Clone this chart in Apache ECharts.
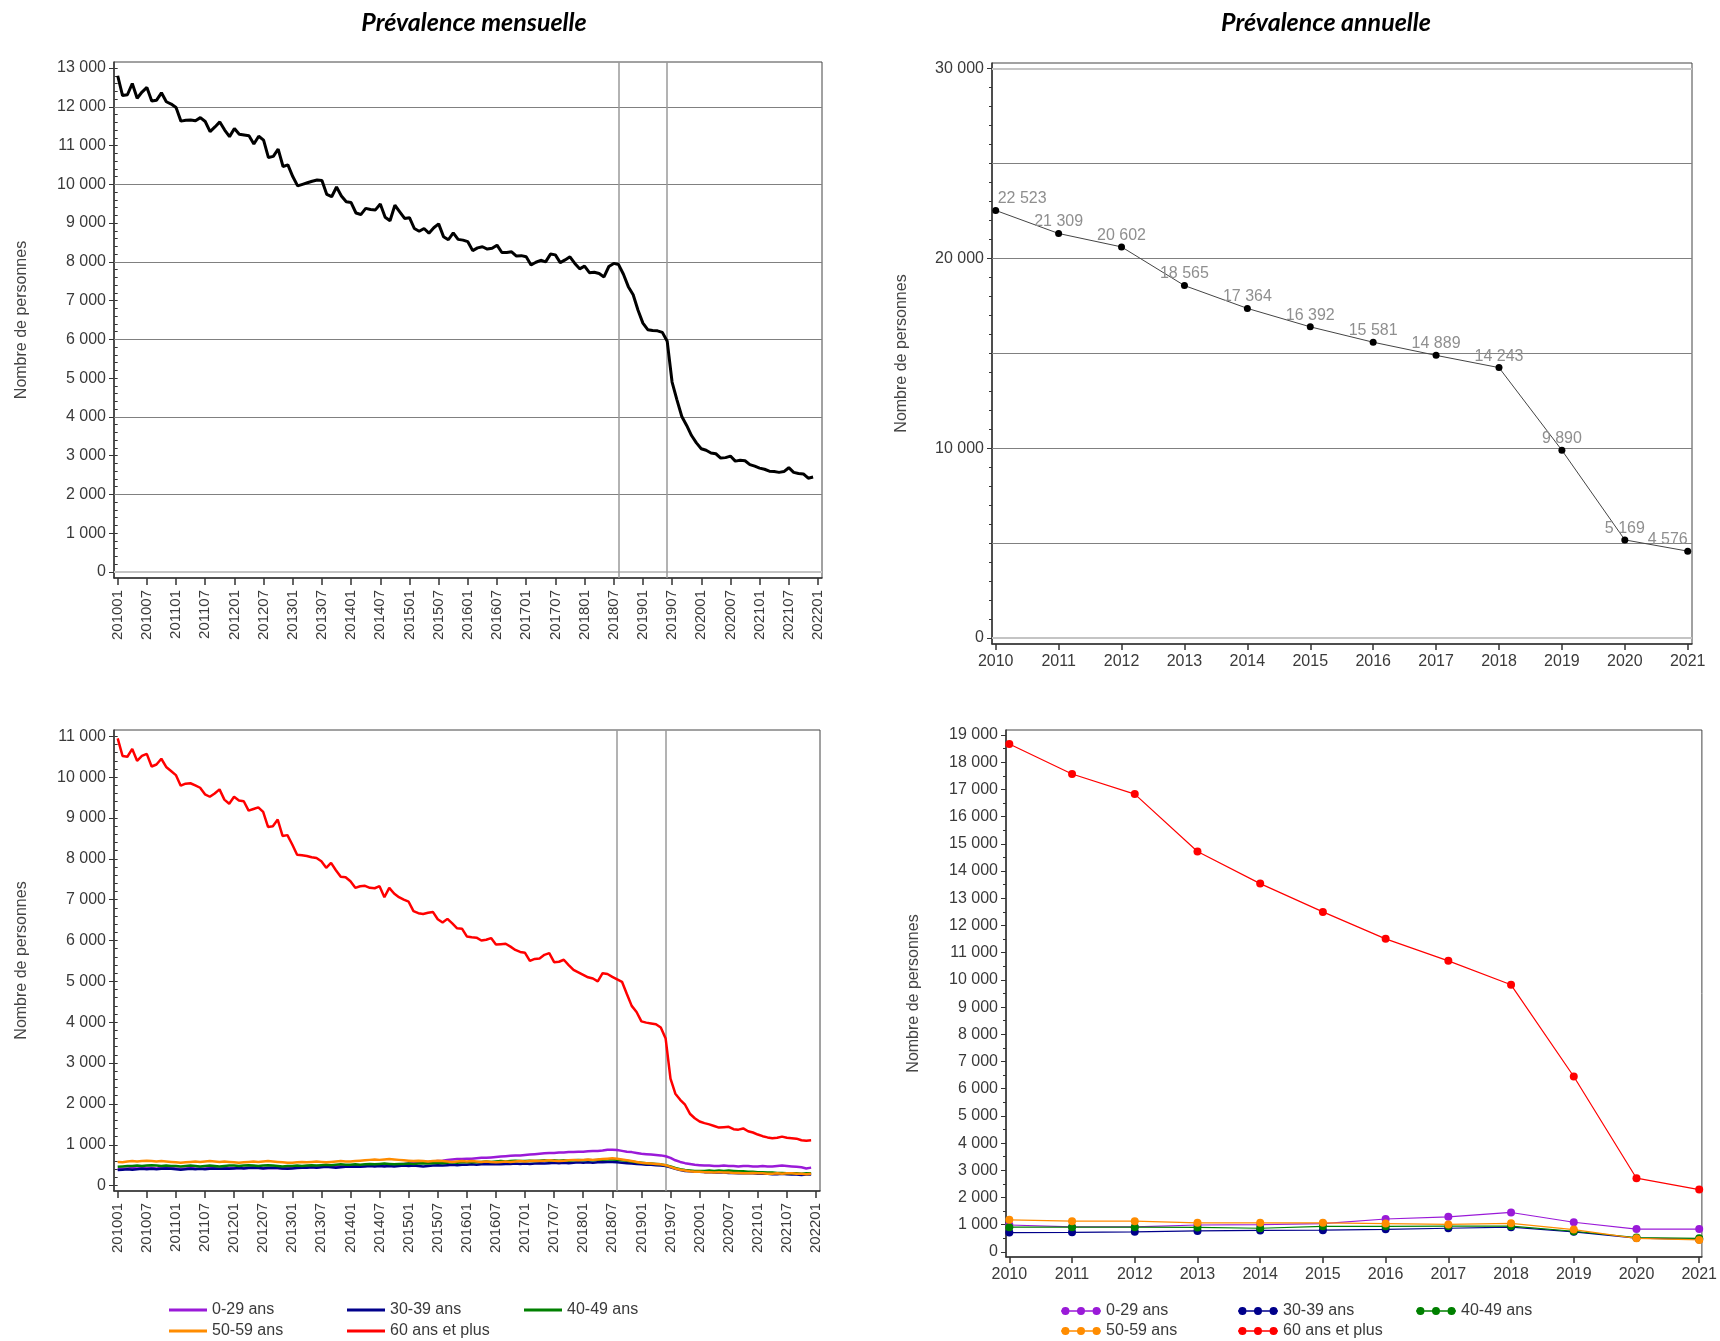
<!DOCTYPE html>
<html>
<head>
<meta charset="utf-8">
<script src="https://cdn.jsdelivr.net/npm/echarts@6/dist/echarts.min.js"></script>
<style>
  html, body { margin: 0; padding: 0; background: #fff; }
  #chart { width: 1720px; height: 1341px; }
</style>
</head>
<body>
<div id="chart"></div>
<script>
// ---- données ----
// mois : index 0 = 201001 ... 143 = 202112
const moisTicks = ['201001','201007','201101','201107','201201','201207','201301','201307',
  '201401','201407','201501','201507','201601','201607','201701','201707','201801','201807',
  '201901','201907','202001','202007','202101','202107','202201'];
const moisRef = ['201808', '201906'];

const totalMensuel = [
  12800,12290,12310,12600,12220,12380,12500,12150,12170,12360,12130,12070,
  11980,11630,11650,11660,11640,11720,11620,11360,11480,11610,11400,11230,
  11440,11290,11270,11250,11040,11240,11140,10690,10720,10910,10460,10500,
  10200,9960,10000,10040,10080,10110,10100,9740,9680,9930,9700,9550,
  9530,9260,9220,9380,9350,9340,9490,9150,9060,9460,9290,9120,
  9140,8860,8790,8860,8740,8880,8980,8650,8570,8750,8580,8560,
  8520,8290,8360,8390,8330,8350,8430,8240,8240,8260,8150,8160,
  8130,7920,7990,8040,8000,8200,8180,7980,8050,8130,7960,7820,
  7890,7720,7730,7700,7610,7880,7960,7930,7680,7360,7150,6750,
  6420,6250,6230,6220,6180,5950,4900,4440,4010,3780,3520,3330,
  3180,3140,3070,3050,2940,2950,2990,2860,2880,2870,2770,2730,
  2680,2650,2600,2590,2570,2590,2690,2570,2540,2530,2420,2450
];

const ages = ['0-29 ans', '30-39 ans', '40-49 ans', '50-59 ans', '60 ans et plus'];
const agesCouleurs = ['#9a1ad8', '#00008b', '#008000', '#ff8c00', '#ff0000'];

const mensuel0029 = [
  400,410,420,430,420,430,440,430,420,430,440,430,
  420,410,420,430,420,410,420,430,420,410,420,430,
  430,440,430,440,450,440,430,430,440,430,420,430,
  440,450,440,450,460,450,460,470,460,470,480,470,
  480,490,480,490,500,490,500,510,500,510,520,530,
  540,550,560,570,580,590,600,610,630,640,650,650,
  660,660,670,680,680,690,700,710,720,730,740,740,
  750,760,770,780,790,800,800,810,810,820,820,830,
  830,840,850,850,860,880,880,870,850,830,820,800,
  780,770,760,750,740,720,680,620,580,550,530,510,
  500,490,490,480,480,490,480,480,470,480,480,470,
  470,480,470,470,480,490,480,470,460,450,420,440
];
const mensuel3039 = [
  380,390,400,390,400,410,400,410,400,410,420,410,
  400,390,400,410,400,410,400,410,420,410,420,410,
  420,430,420,430,440,430,420,430,440,430,420,410,
  420,430,440,440,450,440,450,460,450,440,450,460,
  460,470,460,470,480,470,480,470,480,470,480,490,
  480,490,480,470,480,490,500,490,500,510,500,510,
  510,520,510,520,530,520,530,520,530,530,540,530,
  540,530,540,550,540,550,560,550,560,550,560,570,
  560,570,560,570,570,580,580,570,560,550,540,530,
  520,510,510,500,490,480,450,410,380,360,350,340,
  340,330,330,320,320,320,310,310,300,310,300,300,
  290,290,290,280,280,290,280,270,270,260,270,270
];
const mensuel4049 = [
  460,470,480,480,490,480,490,500,490,480,490,480,
  480,470,480,490,480,470,480,490,480,470,480,490,
  490,480,490,500,490,480,490,500,490,480,470,480,
  480,490,480,490,500,490,500,510,500,510,520,510,
  510,520,510,520,530,520,530,540,530,520,530,530,
  540,530,540,550,540,550,560,550,560,570,560,570,
  570,580,570,580,590,580,590,600,590,600,610,600,
  600,610,600,610,620,610,620,610,620,610,620,630,
  620,630,620,630,630,640,640,630,620,610,590,570,
  560,550,540,530,520,500,470,430,400,380,370,360,
  360,360,370,360,370,360,370,360,350,350,340,340,
  330,330,320,320,310,310,300,300,300,290,300,300
];
const mensuel5059 = [
  580,570,590,600,590,600,610,600,590,600,590,580,
  570,560,570,580,590,580,590,600,590,580,590,580,
  570,560,570,580,590,580,590,600,590,580,570,560,
  560,570,580,570,580,590,580,570,580,590,600,590,
  590,600,610,620,630,640,630,640,650,640,630,620,
  610,600,610,600,590,600,610,600,590,580,590,600,
  590,600,590,580,590,580,570,580,590,580,590,600,
  590,600,610,600,610,620,610,600,610,620,630,620,
  630,640,630,640,650,660,670,660,640,620,600,580,
  560,550,540,530,520,500,460,420,390,370,350,340,
  340,330,330,320,330,320,320,310,310,300,300,310,
  300,300,290,290,300,290,300,300,290,290,280,290
];
const mensuel60p = [
  10950,10520,10500,10690,10400,10520,10570,10260,10310,10450,10250,10150,
  10050,9790,9840,9850,9800,9740,9580,9520,9600,9700,9450,9350,
  9520,9430,9410,9180,9220,9260,9150,8780,8800,8960,8560,8580,
  8350,8100,8090,8070,8040,8020,7940,7780,7900,7720,7560,7550,
  7450,7290,7330,7340,7290,7280,7330,7060,7290,7150,7060,7000,
  6950,6720,6670,6650,6680,6700,6520,6440,6530,6420,6300,6290,
  6100,6080,6070,6000,6020,6060,5900,5910,5920,5850,5770,5720,
  5700,5500,5550,5560,5650,5690,5470,5480,5530,5400,5280,5220,
  5160,5100,5070,5000,5200,5180,5110,5050,4990,4690,4400,4250,
  4020,3990,3970,3950,3870,3600,2620,2250,2100,1980,1760,1650,
  1570,1530,1500,1460,1420,1430,1440,1380,1370,1400,1330,1300,
  1250,1210,1180,1160,1170,1200,1170,1160,1150,1110,1100,1110
];
const agesMensuel = [mensuel0029, mensuel3039, mensuel4049, mensuel5059, mensuel60p];

const annees = [2010, 2011, 2012, 2013, 2014, 2015, 2016, 2017, 2018, 2019, 2020, 2021];
const totalAnnuel = [22523, 21309, 20602, 18565, 17364, 16392, 15581, 14889, 14243, 9890, 5169, 4576];
const annuel0029 = [990, 920, 920, 990, 1000, 1040, 1210, 1290, 1450, 1090, 840, 840];
const annuel3039 = [710, 720, 740, 770, 790, 800, 830, 870, 910, 740, 510, 460];
const annuel4049 = [910, 910, 910, 900, 870, 940, 940, 950, 950, 760, 530, 500];
const annuel5059 = [1180, 1130, 1130, 1070, 1070, 1070, 1040, 1010, 1050, 820, 500, 440];
const annuel60p = [18670, 17570, 16830, 14720, 13540, 12500, 11510, 10700, 9820, 6450, 2710, 2290];
const agesAnnuel = [annuel0029, annuel3039, annuel4049, annuel5059, annuel60p];

// graduations des axes y
const yLabMensuel = [0,1000,2000,3000,4000,5000,6000,7000,8000,9000,10000,11000,12000,13000];
const yGridMensuel = [2000,4000,6000,8000,10000,12000];
const yLabAnnuel = [0, 10000, 20000, 30000];
const yGridAnnuel = [5000, 10000, 15000, 20000, 25000];
const yLabAges = [0,1000,2000,3000,4000,5000,6000,7000,8000,9000,10000,11000];
const yLabAgesAnnuel = [0,1000,2000,3000,4000,5000,6000,7000,8000,9000,10000,
  11000,12000,13000,14000,15000,16000,17000,18000,19000];

// ---- helpers ----
const FONT = '"Liberation Sans", Arial, sans-serif';
const TXT = '#3a3a3a';
const fmt = v => String(Math.round(v)).replace(/\B(?=(\d{3})+(?!\d))/g, ' ');
const moisIndex = s => (Number(s.slice(0, 4)) - 2010) * 12 + Number(s.slice(4)) - 1;
const moisLabel = i => {
  const y = 2010 + Math.floor(i / 12), m = i % 12 + 1;
  return '' + y + (m < 10 ? '0' : '') + m;
};
const pas = (a, b, s) => { const r = []; for (let v = a; v <= b; v += s) r.push(v); return r; };

const moisTickIdx = moisTicks.map(moisIndex);
const refIdx = moisRef.map(moisIndex);

const grids = [
  { left: 114, top: 62, width: 708, height: 516 },   // mensuelle total
  { left: 992, top: 63, width: 700, height: 581 },   // annuelle total
  { left: 114, top: 730, width: 706, height: 461 },  // mensuelle ages
  { left: 1006, top: 730, width: 696, height: 527 }  // annuelle ages
];

function moisAxis(g) {
  return {
    type: 'value', gridIndex: g, min: -0.76, max: 144.83,
    axisLine: { onZero: false, lineStyle: { color: '#333', width: 1.5 } },
    axisTick: { customValues: moisTickIdx, length: 7, lineStyle: { color: '#333', width: 1.5 } },
    axisLabel: {
      customValues: moisTickIdx, rotate: 90, margin: 12,
      formatter: v => moisLabel(Math.round(v)),
      fontSize: 15, color: TXT, fontFamily: FONT
    },
    splitLine: { show: false }
  };
}
function anneeAxis(g, min, max) {
  return {
    type: 'value', gridIndex: g, min: min, max: max,
    axisLine: { onZero: false, lineStyle: { color: '#333', width: 1.5 } },
    axisTick: { customValues: annees, length: 6, lineStyle: { color: '#333', width: 1.5 } },
    axisLabel: { customValues: annees, margin: 10, formatter: v => String(Math.round(v)),
      fontSize: 16, color: TXT, fontFamily: FONT },
    splitLine: { show: false }
  };
}
function yAxes(g, min, max, labels, minorStep, nameGap) {
  return [{
    type: 'value', gridIndex: g, min: min, max: max, position: 'left',
    name: 'Nombre de personnes', nameLocation: 'middle', nameGap: nameGap, nameRotate: 90,
    nameTextStyle: { fontSize: 16, color: '#444', fontFamily: FONT },
    axisLine: { show: true, onZero: false, lineStyle: { color: '#333', width: 1.5 } },
    axisTick: { show: true, customValues: labels, length: 5, lineStyle: { color: '#333' } },
    axisLabel: { customValues: labels, formatter: fmt, margin: 8, fontSize: 16, color: TXT, fontFamily: FONT },
    splitLine: { show: false }
  }, {
    type: 'value', gridIndex: g, min: min, max: max, position: 'left',
    axisLine: { show: false },
    axisTick: { show: true, customValues: pas(0, labels[labels.length - 1], minorStep), length: 3, lineStyle: { color: '#333' } },
    axisLabel: { show: false },
    splitLine: { show: false }
  }];
}

const lineGris = { color: '#808080', width: 1, type: 'solid' };
const lineClair = { color: '#c4c4c4', width: 2, type: 'solid' };
function markLines(hLines, clairs, vLines) {
  const data = [];
  hLines.forEach(v => data.push({ yAxis: v, lineStyle: lineGris }));
  clairs.forEach(v => data.push({ yAxis: v, lineStyle: lineClair }));
  vLines.forEach(v => data.push({ xAxis: v, lineStyle: { color: '#9a9a9a', width: 1.5, type: 'solid' } }));
  return { z: 1, silent: true, symbol: ['none', 'none'], label: { show: false },
    emphasis: { disabled: true }, animation: false, data: data };
}

// ---- series ----
const series = [];
series.push({
  type: 'line', name: 'Total mensuel', xAxisIndex: 0, yAxisIndex: 0,
  data: totalMensuel.map((v, i) => [i, v]), showSymbol: false,
  lineStyle: { color: '#000', width: 3 }, itemStyle: { color: '#000' },
  markLine: markLines(yGridMensuel, [0], refIdx)
});
series.push({
  type: 'line', name: 'Total annuel', xAxisIndex: 1, yAxisIndex: 2,
  data: totalAnnuel.map((v, i) => {
    const d = { value: [annees[i], v] };
    if (i === 0) d.label = { align: 'left', offset: [2, 0] };
    if (i === totalAnnuel.length - 1) d.label = { align: 'right', offset: [0, 0] };
    return d;
  }),
  symbol: 'circle', symbolSize: 7,
  itemStyle: { color: '#000' }, lineStyle: { color: '#444', width: 1 },
  label: { show: true, position: 'top', distance: 0, formatter: p => fmt(p.value[1]),
    color: '#8f8f8f', fontSize: 16, fontFamily: FONT },
  markLine: markLines(yGridAnnuel, [0, 30000], [])
});
ages.forEach((name, k) => {
  const s = {
    type: 'line', name: name, xAxisIndex: 2, yAxisIndex: 4, z: 2 + k,
    data: agesMensuel[k].map((v, i) => [i, v]), showSymbol: false,
    lineStyle: { color: agesCouleurs[k], width: 2.5 }, itemStyle: { color: agesCouleurs[k] }
  };
  if (k === 0) s.markLine = markLines([], [], refIdx);
  series.push(s);
});
ages.forEach((name, k) => {
  series.push({
    type: 'line', name: name, xAxisIndex: 3, yAxisIndex: 6, z: 2 + k,
    data: agesAnnuel[k].map((v, i) => [annees[i], v]),
    symbol: 'circle', symbolSize: 8,
    lineStyle: { color: agesCouleurs[k], width: 1.2 }, itemStyle: { color: agesCouleurs[k] }
  });
});

// ---- légendes ----
const posLegMensuel = [[169, 1310], [347, 1310], [524, 1310], [169, 1331], [347, 1331]];
const posLegAnnuel = [[1061, 1311], [1238, 1311], [1416, 1311], [1061, 1331], [1238, 1331]];
const iconPoints = 'path://M0,3.4L36,3.4L36,4.6L0,4.6Z' +
  'M0.4,4A3.6,3.6 0 1,1 7.6,4A3.6,3.6 0 1,1 0.4,4Z' +
  'M14.4,4A3.6,3.6 0 1,1 21.6,4A3.6,3.6 0 1,1 14.4,4Z' +
  'M28.4,4A3.6,3.6 0 1,1 35.6,4A3.6,3.6 0 1,1 28.4,4Z';
const legends = [];
ages.forEach((name, k) => {
  legends.push({
    left: posLegMensuel[k][0], top: posLegMensuel[k][1] - 8, padding: 0, selectedMode: false,
    itemWidth: 38, itemHeight: 3, itemStyle: { borderWidth: 0 },
    data: [{ name: name, icon: 'rect' }],
    textStyle: { fontSize: 16, color: TXT, fontFamily: FONT }
  });
  legends.push({
    left: posLegAnnuel[k][0], top: posLegAnnuel[k][1] - 8, padding: 0, selectedMode: false,
    itemWidth: 40, itemHeight: 9, itemStyle: { borderWidth: 0 },
    data: [{ name: name, icon: iconPoints }],
    textStyle: { fontSize: 16, color: TXT, fontFamily: FONT }
  });
});

const titreStyle = { fontFamily: 'Lato', fontStyle: 'italic', fontWeight: 'bold', fontSize: 25, color: '#000' };

const option = {
  animation: false,
  backgroundColor: '#fff',
  title: [
    { text: 'Prévalence mensuelle', left: 474, top: 10, textAlign: 'center', padding: 0, textStyle: titreStyle },
    { text: 'Prévalence annuelle', left: 1326, top: 10, textAlign: 'center', padding: 0, textStyle: titreStyle }
  ],
  grid: grids.map(g => Object.assign({ show: true, borderColor: '#444', borderWidth: 1, backgroundColor: '#fff' }, g)),
  xAxis: [moisAxis(0), anneeAxis(1, 2009.941, 2021.068), moisAxis(2), anneeAxis(3, 2009.947, 2021.043)],
  yAxis: [].concat(
    yAxes(0, -155, 13155, yLabMensuel, 200, 84),
    yAxes(1, -316, 30290, yLabAnnuel, 1000, 82),
    yAxes(2, -132, 11154, yLabAges, 200, 84),
    yAxes(3, -187, 19187, yLabAgesAnnuel, 500, 84)
  ),
  legend: legends,
  series: series
};

const myChart = echarts.init(document.getElementById('chart'));
myChart.setOption(option);
window.addEventListener('resize', function () {
  myChart.resize();
});
</script>
</body>
</html>
